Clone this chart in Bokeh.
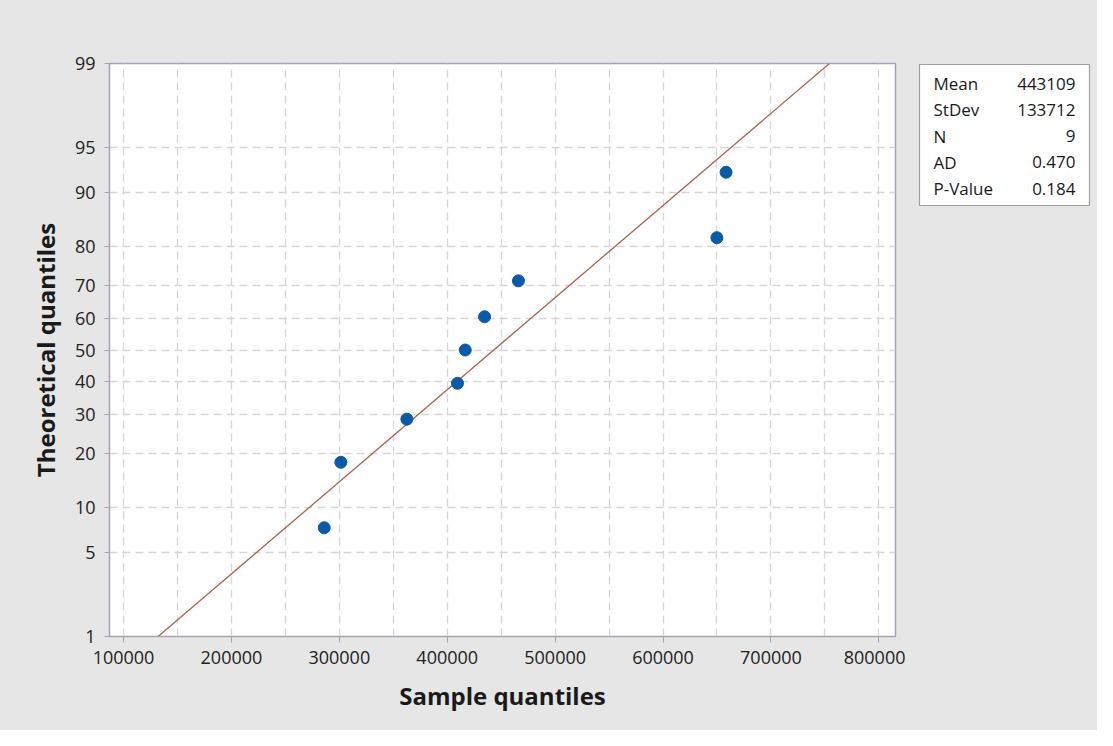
import math
from bokeh.plotting import figure
from bokeh.layouts import row
from bokeh.models import Range1d, FixedTicker, CustomJSTickFormatter, ColumnDataSource
from bokeh.core.properties import value
from bokeh.embed import file_html
from bokeh.resources import INLINE

# ---- data ----
sample_x = [286000, 301400, 362600, 409500, 416700, 434600, 466000, 649900, 658400]
percent_y = [7.45, 18.09, 28.72, 39.36, 50.0, 60.64, 71.28, 81.91, 92.55]
fit_mean = 443109
fit_sd = 133712
y_tick_percents = [1, 5, 10, 20, 30, 40, 50, 60, 70, 80, 90, 95, 99]
x_tick_values = [100000, 200000, 300000, 400000, 500000, 600000, 700000, 800000]
x_grid_values = [100000 + 50000 * i for i in range(15)]
stat_labels = ["Mean", "StDev", "N", "AD", "P-Value"]
stat_values = ["443109", "133712", "9", "0.470", "0.184"]

FONT = "Open Sans"
BG = "#e6e6e6"
AXC = "#a3a3b8"
TOP, BOTTOM = 63, 94
HEIGHT = 730


def norm_ppf(p):
    # inverse of the standard normal CDF by Newton iteration (scale transform)
    x = 0.0
    for _ in range(60):
        cdf = 0.5 * (1 + math.erf(x / math.sqrt(2)))
        pdf = math.exp(-x * x / 2) / math.sqrt(2 * math.pi)
        x -= (cdf - p) / pdf
    return x


z_lo = norm_ppf(0.01)
z_hi = norm_ppf(0.99)
pt_z = [norm_ppf(v / 100.0) for v in percent_y]
tick_z = [norm_ppf(v / 100.0) for v in y_tick_percents]

p = figure(width=905, height=HEIGHT, output_backend="svg", toolbar_location=None,
           x_range=Range1d(87000, 815450), y_range=Range1d(z_lo, z_hi),
           min_border_left=109, min_border_right=10, min_border_top=TOP, min_border_bottom=BOTTOM)
p.styles = {"background-color": BG}
p.border_fill_color = BG
p.background_fill_color = "white"
p.outline_line_color = AXC
p.outline_line_width = 1.5

# axes
p.xaxis.ticker = FixedTicker(ticks=x_tick_values)
p.yaxis.ticker = FixedTicker(ticks=tick_z)
p.yaxis.formatter = CustomJSTickFormatter(args=dict(zs=tick_z, labs=[str(v) for v in y_tick_percents]), code="""
for (let i = 0; i < zs.length; i++) { if (Math.abs(tick - zs[i]) < 1e-6) return labs[i]; }
return "";
""")
p.xaxis.formatter = CustomJSTickFormatter(code="return tick.toFixed(0);")
for ax in (p.xaxis[0], p.yaxis[0]):
    ax.axis_line_color = AXC
    ax.major_tick_line_color = AXC
    ax.minor_tick_line_color = None
    ax.major_tick_in = 0
    ax.major_label_text_font = FONT
    ax.major_label_text_font_size = "18px"
    ax.major_label_text_color = "#222222"
    ax.axis_label_text_font = FONT
    ax.axis_label_text_font_style = "bold"
    ax.axis_label_text_font_size = "24px"
    ax.axis_label_text_color = "#1a1a1a"
p.xaxis.major_tick_out = 6
p.yaxis.major_tick_out = 5
p.xaxis.major_label_standoff = 8
p.yaxis.major_label_standoff = 9
p.xaxis.axis_label = "Sample quantiles"
p.yaxis.axis_label = "Theoretical quantiles"
p.xaxis.axis_label_standoff = 12
p.yaxis.axis_label_standoff = 10

# grid
p.xgrid.ticker = FixedTicker(ticks=x_grid_values)
p.ygrid.ticker = FixedTicker(ticks=tick_z)
for g in (p.xgrid[0], p.ygrid[0]):
    g.grid_line_color = "#d6d6d6"
    g.grid_line_dash = "8 5"
    g.grid_line_width = 1.3

# fitted line from mean and sd
line_z = [z_lo, z_hi]
line_x = [fit_mean + fit_sd * z for z in line_z]
p.line(line_x, line_z, line_color="#b0604a", line_width=1.3)

src = ColumnDataSource(dict(x=sample_x, y=pt_z))
p.scatter("x", "y", source=src, size=12, fill_color="#0b5aa8", line_color="#0b5aa8")

# statistics box as a separate panel; its data units equal canvas pixels
p2 = figure(width=192, height=HEIGHT, output_backend="svg", toolbar_location=None,
            x_range=Range1d(0, 192), y_range=Range1d(HEIGHT - BOTTOM, TOP),
            x_axis_location=None, y_axis_location=None,
            min_border_left=0, min_border_right=0, min_border_top=TOP, min_border_bottom=BOTTOM)
p2.styles = {"background-color": BG}
p2.border_fill_color = BG
p2.background_fill_color = BG
p2.outline_line_color = None
p2.grid.visible = False
p2.quad(left=[14], right=[184], top=[64], bottom=[205], fill_color="white",
        line_color="#a0a0a0", line_width=1.2)
row_y = [83 + 26.3 * i for i in range(len(stat_labels))]
p2.text(x=[28] * len(stat_labels), y=row_y, text=stat_labels, text_font=value(FONT),
        text_font_size="17px", text_align="left", text_baseline="middle", text_color="#1a1a1a")
p2.text(x=[170] * len(stat_values), y=row_y, text=stat_values, text_font=value(FONT),
        text_font_size="17px", text_align="right", text_baseline="middle", text_color="#1a1a1a")

layout = row(p, p2, spacing=0)
layout.styles = {"background-color": BG}
open("out.html", "w").write(file_html(layout, INLINE))
